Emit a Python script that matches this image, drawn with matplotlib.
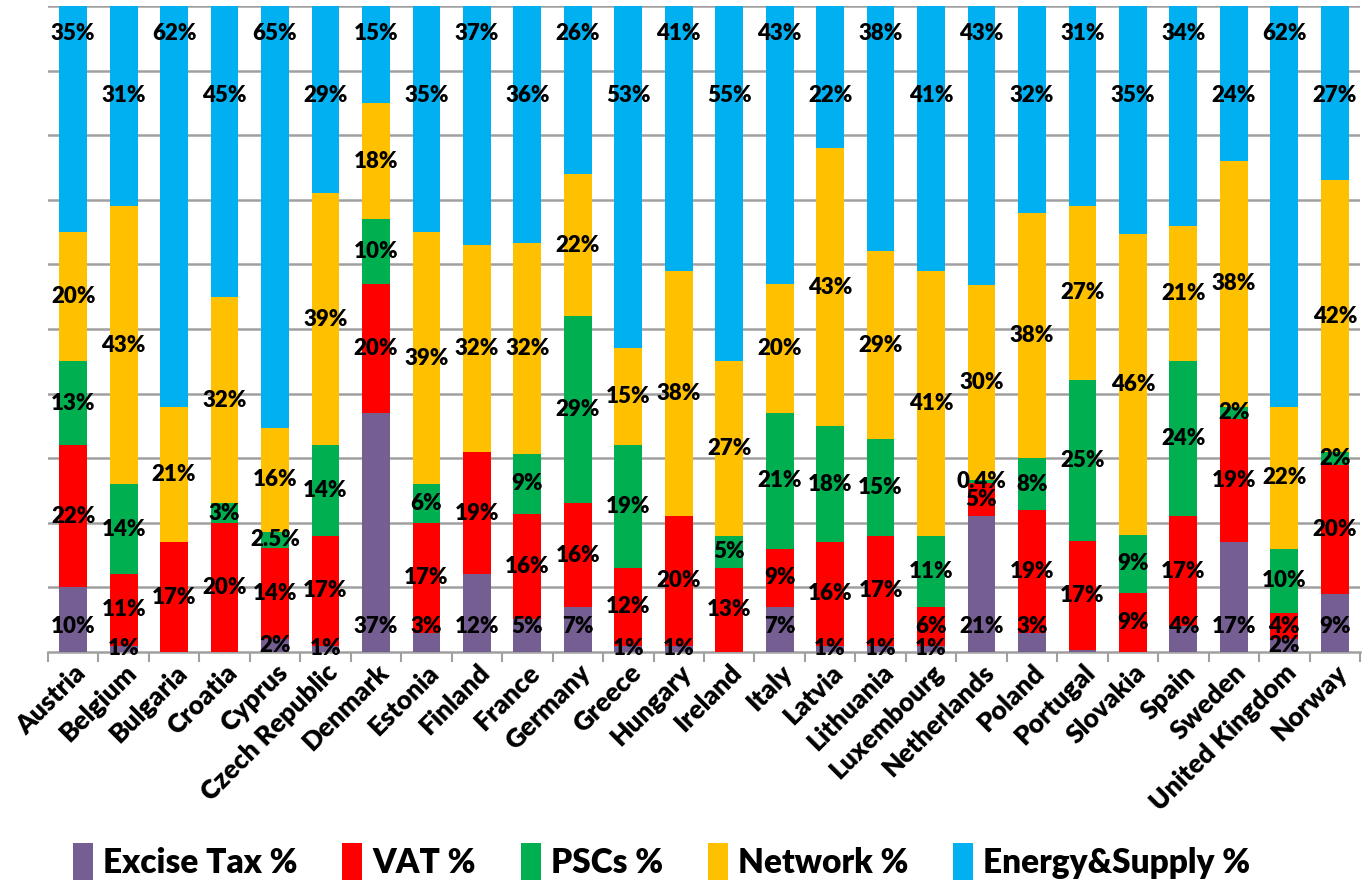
import matplotlib.pyplot as plt
import numpy as np
from matplotlib.patches import Patch

# electricity price components by country (%)
countries = ['Austria', 'Belgium', 'Bulgaria', 'Croatia', 'Cyprus', 'Czech Republic',
             'Denmark', 'Estonia', 'Finland', 'France', 'Germany', 'Greece', 'Hungary',
             'Ireland', 'Italy', 'Latvia', 'Lithuania', 'Luxembourg', 'Netherlands',
             'Poland', 'Portugal', 'Slovakia', 'Spain', 'Sweden', 'United Kingdom', 'Norway']
excise = [10, 1, 0, 0, 2, 1, 37, 3, 12, 5, 7, 1, 1, 0, 7, 1, 1, 1, 21, 3, 0.3, 0, 4, 17, 2, 9]
vat = [22, 11, 17, 20, 14, 17, 20, 17, 19, 16, 16, 12, 20, 13, 9, 16, 17, 6, 5, 19, 17, 9, 17, 19, 4, 20]
pscs = [13, 14, 0, 3, 2.5, 14, 10, 6, 0, 9, 29, 19, 0, 5, 21, 18, 15, 11, 0.4, 8, 25, 9, 24, 2, 10, 2]
network = [20, 43, 21, 32, 16, 39, 18, 39, 32, 32, 22, 15, 38, 27, 20, 43, 29, 41, 30, 38, 27, 46, 21, 38, 22, 42]
energy = [35, 31, 62, 45, 65, 29, 15, 35, 37, 36, 26, 53, 41, 55, 43, 22, 38, 41, 43, 32, 31, 35, 34, 24, 62, 27]

names = ['Excise Tax %', 'VAT %', 'PSCs %', 'Network %', 'Energy&Supply %']
colors = ['#745E92', '#FF0000', '#00B050', '#FFC000', '#00B0F0']

plt.rcParams['font.family'] = ['Lato', 'DejaVu Sans']
plt.rcParams['font.weight'] = 'bold'

series = np.array([excise, vat, pscs, network, energy], dtype=float)
shares = series / series.sum(axis=0) * 100   # 100% stacked
x = np.arange(len(countries))

fig = plt.figure(figsize=(13.7, 8.88), dpi=100)
ax = fig.add_axes([0.035, 0.2658, 0.9577, 0.7274])

bottom = np.zeros(len(countries))
for k in range(5):
    ax.bar(x, shares[k], 0.55, bottom=bottom, color=colors[k], zorder=3)
    for i in range(len(countries)):
        v = series[k][i]
        if v < 0.35:
            continue
        txt = ('%g' % v) + '%'
        yc = bottom[i] + shares[k][i] / 2
        if k == 0 and v >= 3:
            yc = 3.9
        if k == 4:
            yc = 95.8 if i % 2 == 0 else 86.2
        ax.text(x[i], yc, txt, ha='center', va='center', fontsize=16,
                fontweight='heavy', color='black', zorder=5)
    bottom += shares[k]

ax.set_xlim(-0.5, len(countries) - 0.5)
ax.set_ylim(0, 100)
ax.set_yticks(np.arange(10, 101, 10))
ax.set_yticklabels([])
ax.tick_params(axis='y', length=0)
ax.yaxis.grid(True, color='#A0A0A0', linewidth=1.8, zorder=0)
ax.set_axisbelow(True)

ax.set_xticks(x)
ax.set_xticklabels(countries, rotation=45, ha='right', rotation_mode='anchor',
                   fontsize=19, fontweight='heavy')
ax.tick_params(axis='x', length=0, pad=6)
ax.set_xticks(np.arange(-0.5, len(countries), 1), minor=True)
ax.tick_params(axis='x', which='minor', length=7, width=1.5, color='#A0A0A0')

for s in ['top', 'right', 'left']:
    ax.spines[s].set_visible(False)
ax.spines['bottom'].set_color('#A0A0A0')
ax.spines['bottom'].set_linewidth(1.8)

handles = [Patch(facecolor=c) for c in colors]
fig.legend(handles, names, loc='center', bbox_to_anchor=(0.483, 0.03), ncol=5,
           frameon=False, handlelength=0.6, handleheight=1.3,
           handletextpad=0.3, columnspacing=1.35, prop={'weight': 'heavy', 'size': 24})

fig.savefig('out.png', dpi=100)
